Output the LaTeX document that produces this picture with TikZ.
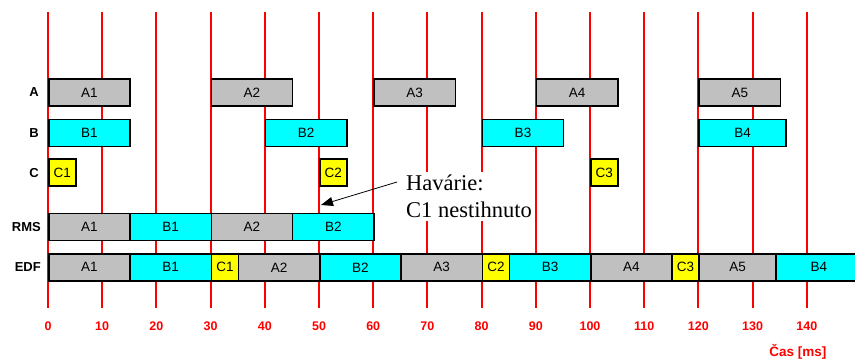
\documentclass[tikz,border=0pt]{standalone}
\usepackage{fontspec}
\setmainfont{Liberation Serif}
\setsansfont{Liberation Sans}
\usetikzlibrary{calc,arrows.meta}
\definecolor{tgray}{HTML}{C0C0C0}
\definecolor{tcyan}{HTML}{00FFFF}
\definecolor{tyellow}{HTML}{FFFF00}
\definecolor{tred}{HTML}{FF0000}

% one scheduled job: name, start [ms], end [ms], row centre, fill, label
\newcommand\schedjob[6]{%
  \node[job, fill=#5, minimum width={5.42pt*(#3-#2)}]
    (#1) at ({48+5.42*#2}, #4) {#6};}

\begin{document}
\begin{tikzpicture}[x=1pt, y=-1pt,
  tick/.style={tred, line width=2pt},
  job/.style={draw=black, line width=1.5pt, minimum height=27pt,
    inner sep=0pt, anchor=west, font=\sffamily\fontsize{13.5}{13.5}\selectfont},
  rowlab/.style={anchor=east, inner sep=0pt, font=\sffamily\bfseries\fontsize{13}{13}\selectfont},
  axlab/.style={tred, inner sep=0pt, font=\sffamily\bfseries\fontsize{12.5}{12.5}\selectfont},
]
\useasboundingbox (0,0) rectangle (855,360);

% time grid
\foreach \t in {0,10,...,140} {
  \draw[tick] ({48+5.42*\t}, 12) -- ({48+5.42*\t}, 308);
  \node[axlab] (ax\t) at ({48+5.42*\t}, 326) {\t};
}
\node[axlab, font=\sffamily\bfseries\fontsize{13.5}{13.5}\selectfont] (unit) at (798, 352) {Čas [ms]};

% row labels
\node[rowlab] (lA) at (39, 92.5) {A};
\node[rowlab] (lB) at (39, 133) {B};
\node[rowlab] (lC) at (39, 172.7) {C};
\node[rowlab] (lRMS) at (41, 227) {RMS};
\node[rowlab] (lEDF) at (41, 267.3) {EDF};

% task A releases
\schedjob{a1}{0}{15}{92.5}{tgray}{A1}
\schedjob{a2}{30}{45}{92.5}{tgray}{A2}
\schedjob{a3}{60}{75}{92.5}{tgray}{A3}
\schedjob{a4}{90}{105}{92.5}{tgray}{A4}
\schedjob{a5}{120}{135}{92.5}{tgray}{A5}

% task B releases
\schedjob{b1}{0}{15}{133}{tcyan}{B1}
\schedjob{b2}{40}{55}{133}{tcyan}{B2}
\schedjob{b3}{80}{95}{133}{tcyan}{B3}
\schedjob{b4}{120}{136}{133}{tcyan}{B4}

% task C releases
\schedjob{c1}{0}{5}{172.7}{tyellow}{C1}
\schedjob{c2}{50}{55}{172.7}{tyellow}{C2}
\schedjob{c3}{100}{105}{172.7}{tyellow}{C3}

% RMS schedule
\schedjob{r1}{0}{15}{227}{tgray}{A1}
\schedjob{r2}{15}{30}{227}{tcyan}{B1}
\schedjob{r3}{30}{45}{227}{tgray}{A2}
\schedjob{r4}{45}{60}{227}{tcyan}{B2}

% EDF schedule
\schedjob{e1}{0}{15}{267.3}{tgray}{A1}
\schedjob{e2}{15}{30}{267.3}{tcyan}{B1}
\schedjob{e3}{30}{35}{267.3}{tyellow}{C1}
\schedjob{e4}{35}{50}{267.3}{tgray}{A2}
\schedjob{e5}{50}{65}{267.3}{tcyan}{B2}
\schedjob{e6}{65}{80}{267.3}{tgray}{A3}
\schedjob{e7}{80}{85}{267.3}{tyellow}{C2}
\schedjob{e8}{85}{100}{267.3}{tcyan}{B3}
\schedjob{e9}{100}{115}{267.3}{tgray}{A4}
\schedjob{e10}{115}{120}{267.3}{tyellow}{C3}
\schedjob{e11}{120}{134.2}{267.3}{tgray}{A5}
\schedjob{e12}{134.2}{150}{267.3}{tcyan}{B4}

% deadline miss note
\node[fill=white, align=left, anchor=north west, inner xsep=3pt, inner ysep=3pt,
  font=\fontsize{22.5}{27}\selectfont] (note) at (403,172) {Havárie:\\C1 nestihnuto};
\coordinate (miss) at (321,205);
\draw[line width=0.8pt, -{Triangle[length=12pt,width=9pt]}]
  ($(note.north west)+(-6,10)$) -- (miss);
\end{tikzpicture}
\end{document}
